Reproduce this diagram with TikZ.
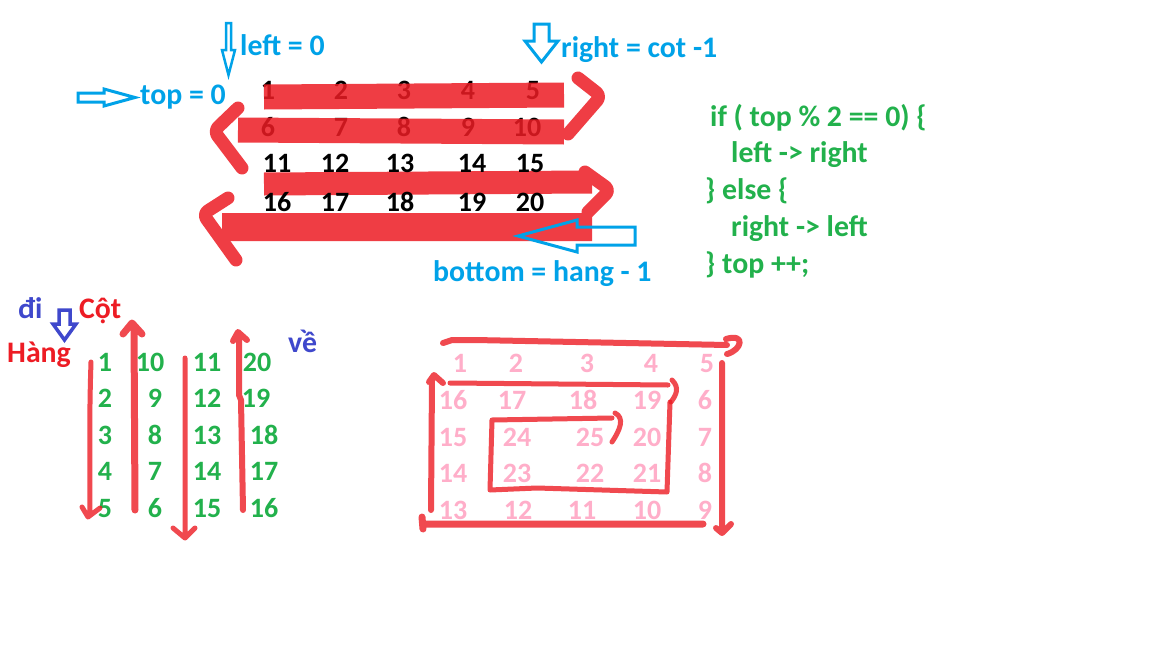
\documentclass[tikz,border=0pt]{standalone}
\usepackage{fontspec}
\setmainfont{Carlito}
\definecolor{cblue}{HTML}{00A2E8}
\definecolor{cgreen}{HTML}{22B14C}
\definecolor{cred}{HTML}{ED1C24}
\definecolor{cpink}{HTML}{FFAEC9}
\definecolor{cindigo}{HTML}{3F48CC}
\begin{document}
\begin{tikzpicture}[x=1pt,y=-1pt,
  txt/.style={font=\fontsize{29.8}{34}\selectfont\bfseries, inner sep=0pt, anchor=base west},
  num/.style={font=\fontsize{28}{34}\selectfont\bfseries, inner sep=0pt, anchor=base},
  brush/.style={draw=cred, line width=25, line cap=butt, line join=round},
  hookstroke/.style={draw=cred, line width=13, line cap=round, line join=round, rounded corners=6},
  pen/.style={draw=cred, line width=5, line cap=round, line join=round, opacity=0.8},
  hollow/.style={draw=cblue, line width=2.5, line join=miter},
]
\fill[white] (0,0) rectangle (1152,648);
\useasboundingbox (0,0) rectangle (1152,648);

% ---- top grid, rows 1-2 (under strokes)
\foreach \t/\x/\y [count=\i] in {1/268/99,2/341/99,3/404/99,4/468/99,5/533/99,
   6/268/136,7/341/136,8/404/136,9/468/136,10/527/136}
  \node[num] (ta\i) at (\x,\y) {\t};

% brush strokes
\begin{scope}[transparency group, opacity=0.85]
\draw[brush] (264,97) -- (564,95);
\draw[hookstroke] (578,78) -- (601,96) -- (568,134);
\draw[brush] (564,132) -- (238,130);
\draw[hookstroke] (238,108) -- (214,131) -- (242,168);
\end{scope}
\begin{scope}[transparency group, opacity=0.85]
\draw[brush, line width=23] (264,184) -- (592,182);
\draw[hookstroke] (585,172) -- (610,190) -- (588,212);
\draw[brush, line width=28] (592,227) -- (222,227);
\draw[hookstroke] (228,198) -- (203,214) -- (236,260);
\end{scope}

% rows 3-4
\foreach \t/\x/\y [count=\i] in {11/277/172,12/335/172,13/400/172,14/472/172,15/530/172,
   16/277/211,17/335/211,18/400/211,19/472/211,20/530/211}
  \node[num] (tb\i) at (\x,\y) {\t};

% blue hollow arrows
\draw[hollow] (226,23) -- (231,23) -- (231,50) -- (235,50) -- (228.5,75) -- (222,50) -- (226,50) -- cycle;
\draw[hollow, line width=3] (534,24) -- (549,24) -- (549,41) -- (558,41) -- (541.5,62) -- (525,41) -- (534,41) -- cycle;
\draw[hollow, line width=3] (78,93) -- (104,93) -- (104,89) -- (135,97.5) -- (104,106) -- (104,102) -- (78,102) -- cycle;
\draw[hollow, line width=3] (518,236) -- (577,220) -- (577,227) -- (635,227) -- (635,245) -- (577,245) -- (577,252) -- cycle;

% blue labels
\node[txt, text=cblue] (lleft) at (240,55) {left = 0};
\node[txt, text=cblue] (lright) at (561,57) {right = cot -1};
\node[txt, text=cblue] (ltop) at (140,104) {top = 0};
\node[txt, text=cblue] (lbottom) at (433,281) {bottom = hang - 1};

% green code
\node[txt, text=cgreen] (c1) at (710,126) {if ( top \% 2 == 0) \{};
\node[txt, text=cgreen] (c2) at (731,162) {left -> right};
\node[txt, text=cgreen] (c3) at (705,199) {\} else \{};
\node[txt, text=cgreen] (c4) at (731,236) {right -> left};
\node[txt, text=cgreen] (c5) at (705,273) {\} top ++;};

% ---- column section
\node[txt, text=cindigo] (ldi) at (18,318) {đi};
\node[txt, text=cred] (lcot) at (79,318) {Cột};
\node[txt, text=cred] (lhang) at (7,362) {Hàng};
\node[txt, text=cindigo] (lve) at (288,352) {về};
\draw[draw=cindigo, line width=3.5, line join=miter] (59,310) -- (70,310) -- (70,324) -- (76,324) -- (64.5,340) -- (53,324) -- (59,324) -- cycle;

\foreach \t/\x/\y [count=\i] in {1/105/371,2/105/407.5,3/105/444,4/105/480.5,5/105/517,
   10/150/371,9/155/407.5,8/155/444,7/155/480.5,6/155/517,
   11/207/371,12/207/407.5,13/207/444,14/207/480.5,15/207/517,
   20/257/371,19/256/407.5,18/264/444,17/264/480.5,16/264/517}
  \node[num, text=cgreen] (cn\i) at (\x,\y) {\t};

\draw[pen] (91,362) .. controls (89,420) and (90,470) .. (90,512) (82,507) -- (88,517) -- (100,508);
\draw[pen, line width=7] (135,510) -- (134,327) (123,334) -- (132,323) -- (142,334);
\draw[pen] (185,358) -- (185,537) (173,528) -- (185,538) -- (195,528);
\draw[pen, line width=6] (243,510) -- (241,400) -- (239,395) -- (239,337) (233,341) -- (238,332) -- (247,340);

% ---- spiral section
\foreach \t/\x/\y [count=\i] in {1/460/372.5,2/516/372.5,3/587/372.5,4/651/372.5,5/707/372.5,
   16/453/409.5,17/512/409.5,18/583/409.5,19/647/409.5,6/705/409.5,
   15/453/446.5,24/517/446.5,25/590/446.5,20/647/446.5,7/705/446.5,
   14/453/482.5,23/517/482.5,22/590/482.5,21/647/482.5,8/705/482.5,
   13/453/519.5,12/518/519.5,11/582/519.5,10/647/519.5,9/705/519.5}
  \node[num, text=cpink] (sp\i) at (\x,\y) {\t};

\draw[pen, line width=6] (443,343) -- (452,340) -- (475,340) -- (727,345)
   (726,339) .. controls (746,333) and (742,350) .. (727,354);
\draw[pen, line width=6] (722,363) -- (722,530) (716,528) -- (722,533) -- (731,524);
\draw[pen, line width=7] (703,524) -- (425,524) (422,517) -- (423,529);
\draw[pen, line width=6] (431,510) -- (432,380) (429,382) -- (434,375) -- (443,383);
\draw[pen] (450,383) -- (668,385) (672,380) .. controls (680,388) and (676,395) .. (671,402);
\draw[pen] (670,402) -- (667,492) -- (537,488) -- (490,490) -- (492,420) -- (612,418)
   (615,413) .. controls (625,418) and (620,430) .. (612,442);
\end{tikzpicture}
\end{document}
